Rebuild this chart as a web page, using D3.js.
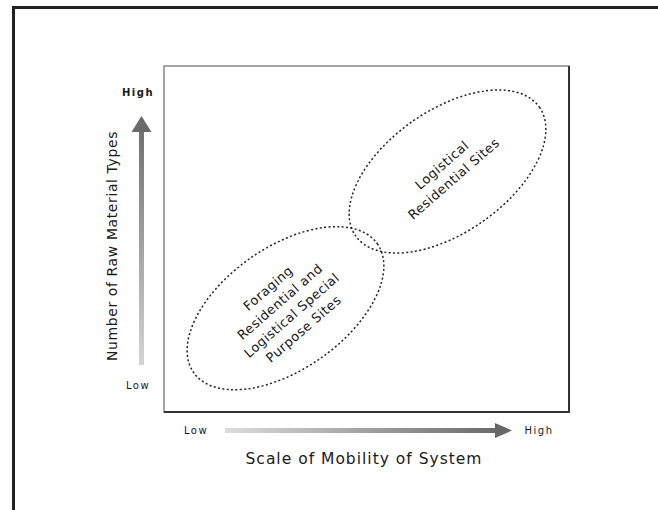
<!DOCTYPE html>
<html lang="en">
<head>
    <meta charset="UTF-8">
    <title>Raw material types vs mobility</title>
    <script src="https://cdn.jsdelivr.net/npm/d3@7"></script>
    <style>
        body { margin: 0; background: #fff; }
        text { font-family: "DejaVu Sans", sans-serif; fill: #1a1a1a; }
    </style>
</head>
<body>
<div id="grafico"></div>
<script>
    // data
    var siteTypes = ["Foraging Residential and Logistical Special Purpose Sites", "Logistical Residential Sites"];
    var siteLines = [["Foraging", "Residential  and", "Logistical Special", "Purpose Sites"],
                     ["Logistical", "Residential Sites"]];
    var mobility = [0.30, 0.70];       // x position of each ellipse centre
    var materialTypes = [0.30, 0.695]; // y position of each ellipse centre
    var spreadMajor = [0.277, 0.277];  // semi-axes, in x units
    var spreadMinor = [0.151, 0.151];
    var tickLabels = ["Low", "High"];
    var xTitle = "Scale of Mobility of System";
    var yTitle = "Number of Raw Material Types";

    var w = 658, h = 510;
    var boxL = 164, boxR = 569, boxT = 66, boxB = 412;
    var tilt = -35;

    var xScale = d3.scaleLinear().domain([0, 1]).range([boxL, boxR]);
    var yScale = d3.scaleLinear().domain([0, 1]).range([boxB, boxT]);

    var svg = d3.select("#grafico").append("svg")
        .attr("width", w).attr("height", h);

    var defs = svg.append("defs");
    var gx = defs.append("linearGradient").attr("id", "gx")
        .attr("x1", "0%").attr("x2", "100%").attr("y1", "0%").attr("y2", "0%");
    gx.append("stop").attr("offset", "0%").attr("stop-color", "#dcdcdc");
    gx.append("stop").attr("offset", "100%").attr("stop-color", "#6a6a6a");
    var gy = defs.append("linearGradient").attr("id", "gy")
        .attr("x1", "0%").attr("x2", "0%").attr("y1", "100%").attr("y2", "0%");
    gy.append("stop").attr("offset", "0%").attr("stop-color", "#d4d4d4");
    gy.append("stop").attr("offset", "100%").attr("stop-color", "#707070");

    //outer frame (runs off the page)
    svg.append("rect")
        .attr("x", 13.5).attr("y", 7.5)
        .attr("width", 800).attr("height", 700)
        .attr("fill", "none").attr("stroke", "#222").attr("stroke-width", 3);

    //plot box with darker right/bottom edge
    svg.append("rect")
        .attr("x", xScale(0)).attr("y", yScale(1))
        .attr("width", xScale(1) - xScale(0)).attr("height", yScale(0) - yScale(1))
        .attr("fill", "none").attr("stroke", "#888").attr("stroke-width", 1.5);
    svg.append("path")
        .attr("d", "M" + xScale(1) + "," + yScale(1) + "V" + yScale(0) + "H" + xScale(0))
        .attr("fill", "none").attr("stroke", "#333").attr("stroke-width", 2);

    //ellipses
    var unit = xScale(1) - xScale(0);
    var groups = svg.selectAll("g.site")
        .data(siteTypes)
        .enter()
        .append("g")
        .attr("class", "site")
        .attr("transform", function(d, i) {
            return "translate(" + xScale(mobility[i]) + "," + yScale(materialTypes[i]) + ") rotate(" + tilt + ")";
        });

    groups.append("ellipse")
        .attr("rx", function(d, i) { return spreadMajor[i] * unit; })
        .attr("ry", function(d, i) { return spreadMinor[i] * unit; })
        .attr("fill", "none")
        .attr("stroke", "#222")
        .attr("stroke-width", 1.5)
        .attr("stroke-dasharray", "2,2.4");

    groups.each(function(d, i) {
        var lines = siteLines[i];
        var lh = 18;
        d3.select(this).append("g")
            .attr("transform", "rotate(-6)")
            .selectAll("text")
            .data(lines)
            .enter()
            .append("text")
            .attr("text-anchor", "middle")
            .attr("x", 0)
            .attr("y", function(t, j) { return (j - (lines.length - 1) / 2) * lh + 5; })
            .attr("font-size", "13px")
            .attr("letter-spacing", "0.5px")
            .text(function(t) { return t; });
    });

    //y arrow
    var ax = 141.5;
    svg.append("rect")
        .attr("x", ax - 2.5).attr("y", 128).attr("width", 5).attr("height", 237)
        .attr("fill", "url(#gy)");
    svg.append("path")
        .attr("d", "M" + ax + ",116 L" + (ax + 10) + ",132 L" + (ax - 10) + ",132 Z")
        .attr("fill", "#6a6a6a");

    //x arrow
    var ay = 430.5;
    svg.append("rect")
        .attr("x", 225).attr("y", ay - 2.5).attr("width", 272).attr("height", 5)
        .attr("fill", "url(#gx)");
    svg.append("path")
        .attr("d", "M512," + ay + " L495," + (ay - 7.5) + " L495," + (ay + 7.5) + " Z")
        .attr("fill", "#666");

    //tick labels
    svg.append("text").attr("x", 138).attr("y", 96).attr("text-anchor", "middle")
        .attr("font-size", "10px").attr("letter-spacing", "1.5px").attr("font-weight", "bold").text(tickLabels[1]);
    svg.append("text").attr("x", 138).attr("y", 389).attr("text-anchor", "middle")
        .attr("font-size", "10px").attr("letter-spacing", "1.5px").text(tickLabels[0]);
    svg.append("text").attr("x", 196).attr("y", 434).attr("text-anchor", "middle")
        .attr("font-size", "10px").attr("letter-spacing", "1.5px").attr("fill", "#555").text(tickLabels[0]);
    svg.append("text").attr("x", 539).attr("y", 434).attr("text-anchor", "middle")
        .attr("font-size", "10px").attr("letter-spacing", "1.5px").attr("fill", "#555").text(tickLabels[1]);

    //titles
    svg.append("text").attr("x", 364).attr("y", 464).attr("text-anchor", "middle")
        .attr("font-size", "15.5px").attr("letter-spacing", "1px").text(xTitle);
    svg.append("text")
        .attr("transform", "translate(117,246) rotate(-90)")
        .attr("text-anchor", "middle")
        .attr("font-size", "14px").attr("letter-spacing", "0.6px").text(yTitle);
</script>
</body>
</html>
